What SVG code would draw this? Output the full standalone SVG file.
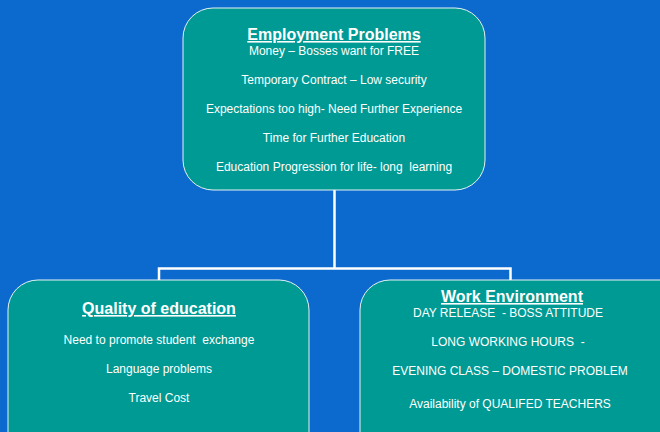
<svg xmlns="http://www.w3.org/2000/svg" width="660" height="432" viewBox="0 0 660 432">
<style>
.box{fill:#009a94;stroke:#e6f2f2;stroke-width:1}
.t{font-family:"Liberation Sans",Arial,sans-serif;fill:#ffffff;text-anchor:middle;white-space:pre}
.h{font-size:16px;font-weight:bold;text-decoration:underline}
.b{font-size:12px}
.c{fill:none;stroke:#ffffff;stroke-width:2.5}
</style>
<rect width="660" height="432" fill="#0c6acf"/>
<g id="connectors">
<path class="c" d="M334.5 190 V268.5 M159 280 V268.5 H510.5 V280"/>
</g>
<g id="employment">
<rect class="box" x="183" y="8" width="302" height="182" rx="30" ry="30"/>
<text class="t h" x="334" y="40">Employment Problems</text>
<text class="t b" x="334" y="55">Money – Bosses want for FREE</text>
<text class="t b" x="334" y="84">Temporary Contract – Low security</text>
<text class="t b" x="334" y="113">Expectations too high- Need Further Experience</text>
<text class="t b" x="334" y="142">Time for Further Education</text>
<text class="t b" x="334" y="171" xml:space="preserve">Education Progression for life- long  learning</text>
</g>
<g id="quality">
<rect class="box" x="8" y="280" width="301" height="190" rx="30" ry="30"/>
<text class="t h" x="159" y="314">Quality of education</text>
<text class="t b" x="159" y="344" xml:space="preserve">Need to promote student  exchange</text>
<text class="t b" x="159" y="373">Language problems</text>
<text class="t b" x="159" y="402">Travel Cost</text>
</g>
<g id="work">
<rect class="box" x="360" y="280" width="330" height="190" rx="30" ry="30"/>
<text class="t h" x="512" y="302">Work Environment</text>
<text class="t b" x="508" y="317" xml:space="preserve">DAY RELEASE  - BOSS ATTITUDE</text>
<text class="t b" x="508" y="346" xml:space="preserve">LONG WORKING HOURS  -</text>
<text class="t b" x="510" y="375">EVENING CLASS – DOMESTIC PROBLEM</text>
<text class="t b" x="510" y="408">Availability of QUALIFED TEACHERS</text>
</g>
</svg>
